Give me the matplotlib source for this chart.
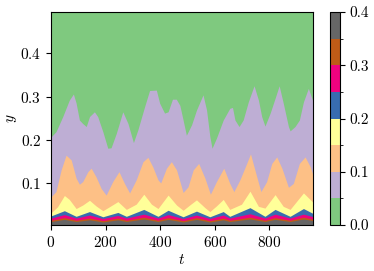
import matplotlib
matplotlib.use("Agg")
import matplotlib.pyplot as plt
from matplotlib.colors import BoundaryNorm
from matplotlib.cm import ScalarMappable

plt.rcParams["font.family"] = "serif"
plt.rcParams["font.serif"] = ["cmr10"]
plt.rcParams["mathtext.fontset"] = "cm"
plt.rcParams["axes.formatter.use_mathtext"] = True
plt.rcParams["font.size"] = 11

# contour levels and colorbar ticks
levels = [0.0, 0.05, 0.1, 0.15, 0.2, 0.25, 0.3, 0.35, 0.4]
cbar_ticks = [0.0, 0.1, 0.2, 0.3, 0.4]

# iso-line heights y(t), one pair of arrays per level
t_05 = [0, 18, 43, 67, 82, 92, 104, 116, 129, 141, 159, 171, 190, 208, 220,
        239, 263, 282, 302, 318, 343, 361, 386, 398, 416, 429, 445, 459, 472,
        484, 496, 515, 533, 557, 570, 582, 590, 606, 631, 655, 665, 674, 689,
        704, 723, 744, 760, 772, 784, 803, 821, 836, 851, 870, 876, 894, 910,
        925, 943, 962]
y_05 = [0.207, 0.219, 0.254, 0.292, 0.306, 0.285, 0.246, 0.238, 0.231, 0.254,
        0.265, 0.254, 0.219, 0.181, 0.182, 0.215, 0.265, 0.238, 0.194, 0.223,
        0.277, 0.314, 0.315, 0.285, 0.262, 0.265, 0.294, 0.294, 0.280, 0.246,
        0.211, 0.235, 0.269, 0.304, 0.269, 0.208, 0.181, 0.204, 0.246, 0.273,
        0.275, 0.246, 0.231, 0.246, 0.288, 0.325, 0.292, 0.254, 0.232, 0.262,
        0.296, 0.325, 0.285, 0.231, 0.221, 0.231, 0.246, 0.288, 0.319, 0.285]

t_10 = [0, 18, 37, 55, 74, 92, 104, 116, 135, 147, 165, 184, 202, 226, 249,
        269, 288, 312, 337, 355, 373, 392, 402, 423, 441, 460, 484, 502, 521,
        541, 564, 584, 606, 633, 655, 670, 692, 717, 731, 747, 769, 790, 809,
        827, 846, 870, 888, 910, 931, 950, 962]
y_10 = [0.069, 0.081, 0.131, 0.165, 0.154, 0.112, 0.098, 0.104, 0.127, 0.135,
        0.115, 0.088, 0.073, 0.104, 0.127, 0.100, 0.078, 0.108, 0.150, 0.160,
        0.138, 0.108, 0.101, 0.135, 0.150, 0.131, 0.079, 0.092, 0.131, 0.146,
        0.112, 0.075, 0.104, 0.135, 0.100, 0.081, 0.108, 0.146, 0.168, 0.131,
        0.081, 0.104, 0.146, 0.161, 0.135, 0.091, 0.100, 0.146, 0.161, 0.138,
        0.115]

t_15 = [0, 24, 49, 67, 92, 116, 141, 165, 190, 214, 245, 276, 312, 340, 368,
        392, 429, 460, 484, 508, 533, 564, 582, 606, 631, 655, 698, 729, 760,
        784, 821, 851, 876, 925, 962]
y_15 = [0.032, 0.046, 0.072, 0.063, 0.042, 0.050, 0.061, 0.048, 0.037, 0.046,
        0.058, 0.040, 0.052, 0.075, 0.052, 0.042, 0.073, 0.050, 0.038, 0.050,
        0.062, 0.044, 0.035, 0.048, 0.063, 0.040, 0.052, 0.082, 0.047, 0.043,
        0.074, 0.047, 0.040, 0.078, 0.055]

# thinner bands near the wall share the same crests and troughs
t_low = [0, 49, 92, 141, 190, 245, 276, 340, 392, 429, 484, 533, 582, 631,
         655, 729, 784, 821, 876, 925, 962]
y_20 = [0.025, 0.037, 0.024, 0.035, 0.023, 0.033, 0.024, 0.040, 0.024, 0.038,
        0.023, 0.036, 0.023, 0.035, 0.024, 0.044, 0.024, 0.040, 0.024, 0.042,
        0.030]
y_25 = [0.020, 0.028, 0.020, 0.027, 0.019, 0.026, 0.020, 0.029, 0.020, 0.028,
        0.019, 0.027, 0.019, 0.027, 0.020, 0.030, 0.020, 0.029, 0.020, 0.029,
        0.023]
y_30 = [0.015, 0.021, 0.015, 0.020, 0.014, 0.020, 0.015, 0.022, 0.015, 0.021,
        0.014, 0.021, 0.014, 0.020, 0.015, 0.022, 0.015, 0.021, 0.015, 0.022,
        0.017]
y_35 = [0.012, 0.017, 0.012, 0.016, 0.011, 0.016, 0.012, 0.018, 0.012, 0.017,
        0.011, 0.017, 0.011, 0.016, 0.012, 0.018, 0.012, 0.017, 0.012, 0.018,
        0.014]

boundaries = [(t_05, y_05), (t_10, y_10), (t_15, y_15), (t_low, y_20),
              (t_low, y_25), (t_low, y_30), (t_low, y_35)]

cmap = plt.get_cmap("Accent")
colors = [cmap(i) for i in range(8)]

fig = plt.figure(figsize=(3.74, 2.71), dpi=100)
ax = fig.add_axes([0.1364, 0.1697, 0.7005, 0.786])
cax = fig.add_axes([0.8824, 0.1697, 0.0267, 0.786])

# each band is filled below its upper iso-line, lowest (largest value) last
ax.set_facecolor(colors[0])
for k, (tk, yk) in enumerate(boundaries):
    ax.fill_between(tk, 0, yk, color=colors[k + 1], linewidth=0)

ax.set_xlim(0, 960)
ax.set_ylim(0.004, 0.495)
ax.set_xticks([0, 200, 400, 600, 800])
ax.set_yticks([0.1, 0.2, 0.3, 0.4])
ax.set_xlabel("$t$", labelpad=2)
ax.set_ylabel("$y$", labelpad=1)

norm = BoundaryNorm(levels, cmap.N)
cb = fig.colorbar(ScalarMappable(norm=norm, cmap=cmap), cax=cax,
                  ticks=cbar_ticks)
cb.ax.set_yticklabels(["0.0", "0.1", "0.2", "0.3", "0.4"])

fig.savefig("out.png", dpi=100)
